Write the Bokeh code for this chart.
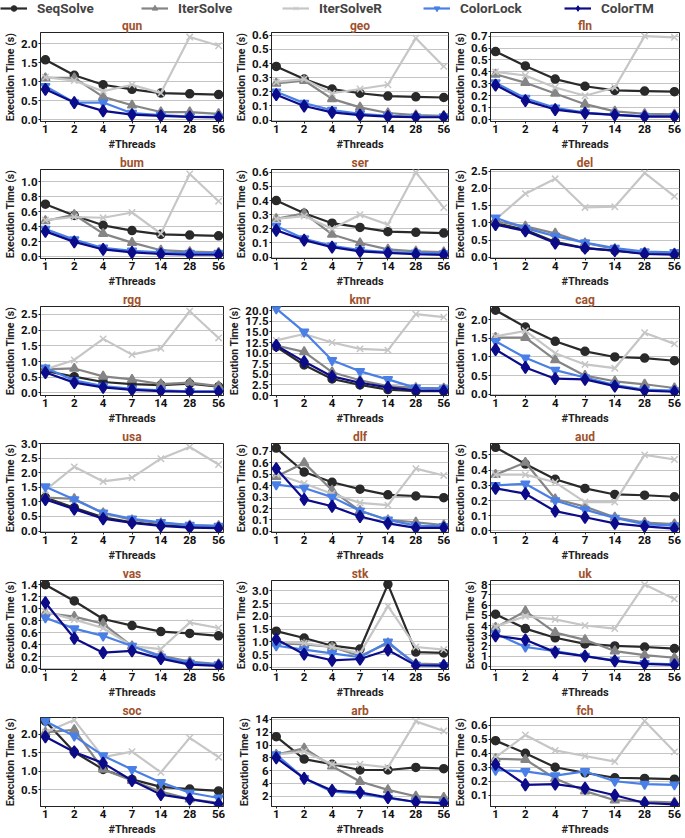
from bokeh.plotting import figure
from bokeh.layouts import gridplot, column
from bokeh.models import Range1d, FixedTicker, Legend, LegendItem, PrintfTickFormatter
from bokeh.embed import file_html
from bokeh.resources import INLINE

threads = ["1", "2", "4", "7", "14", "28", "56"]
series = ["SeqSolve", "IterSolve", "IterSolveR", "ColorLock", "ColorTM"]
graphs = ["qun", "geo", "fln", "bum", "ser", "del", "rgg", "kmr", "cag",
          "usa", "dlf", "aud", "vas", "stk", "uk", "soc", "arb", "fch"]

# execution times (s), per graph, per series, over threads
qun = {"SeqSolve": [1.58, 1.17, 0.92, 0.80, 0.70, 0.68, 0.66],
       "IterSolve": [1.10, 1.10, 0.60, 0.38, 0.20, 0.20, 0.15],
       "IterSolveR": [1.12, 1.03, 0.75, 0.92, 0.70, 2.18, 1.95],
       "ColorLock": [0.88, 0.45, 0.45, 0.17, 0.12, 0.08, 0.07],
       "ColorTM": [0.80, 0.45, 0.23, 0.13, 0.10, 0.07, 0.06]}
geo = {"SeqSolve": [0.38, 0.29, 0.22, 0.19, 0.17, 0.165, 0.16],
       "IterSolve": [0.26, 0.28, 0.15, 0.09, 0.05, 0.035, 0.03],
       "IterSolveR": [0.27, 0.29, 0.19, 0.22, 0.25, 0.58, 0.38],
       "ColorLock": [0.20, 0.12, 0.07, 0.045, 0.03, 0.025, 0.025],
       "ColorTM": [0.18, 0.10, 0.055, 0.035, 0.025, 0.02, 0.02]}
fln = {"SeqSolve": [0.57, 0.45, 0.34, 0.28, 0.245, 0.24, 0.235],
       "IterSolve": [0.38, 0.31, 0.22, 0.13, 0.07, 0.05, 0.045],
       "IterSolveR": [0.40, 0.37, 0.27, 0.20, 0.27, 0.70, 0.69],
       "ColorLock": [0.31, 0.18, 0.10, 0.06, 0.04, 0.03, 0.03],
       "ColorTM": [0.29, 0.16, 0.085, 0.055, 0.04, 0.025, 0.025]}
bum = {"SeqSolve": [0.70, 0.55, 0.42, 0.35, 0.30, 0.29, 0.28],
       "IterSolve": [0.48, 0.56, 0.31, 0.19, 0.09, 0.07, 0.06],
       "IterSolveR": [0.49, 0.53, 0.52, 0.59, 0.31, 1.10, 0.74],
       "ColorLock": [0.37, 0.23, 0.12, 0.08, 0.06, 0.05, 0.05],
       "ColorTM": [0.34, 0.20, 0.10, 0.06, 0.04, 0.03, 0.03]}
ser = {"SeqSolve": [0.40, 0.31, 0.24, 0.21, 0.18, 0.175, 0.17],
       "IterSolve": [0.27, 0.31, 0.16, 0.10, 0.055, 0.04, 0.035],
       "IterSolveR": [0.27, 0.29, 0.20, 0.30, 0.23, 0.60, 0.35],
       "ColorLock": [0.22, 0.13, 0.08, 0.05, 0.035, 0.03, 0.025],
       "ColorTM": [0.19, 0.12, 0.07, 0.04, 0.03, 0.02, 0.015]}
del_ = {"SeqSolve": [1.00, 0.80, 0.45, 0.27, 0.20, 0.12, 0.10],
        "IterSolve": [1.05, 0.90, 0.70, 0.42, 0.25, 0.15, 0.12],
        "IterSolveR": [1.10, 1.85, 2.28, 1.45, 1.47, 2.45, 1.77],
        "ColorLock": [1.15, 0.85, 0.62, 0.43, 0.27, 0.17, 0.15],
        "ColorTM": [0.95, 0.77, 0.42, 0.27, 0.20, 0.10, 0.08]}
rgg = {"SeqSolve": [0.70, 0.52, 0.35, 0.28, 0.25, 0.30, 0.20],
       "IterSolve": [0.75, 0.78, 0.53, 0.43, 0.28, 0.33, 0.22],
       "IterSolveR": [0.75, 1.05, 1.72, 1.22, 1.42, 2.60, 1.75],
       "ColorLock": [0.80, 0.40, 0.22, 0.13, 0.08, 0.05, 0.05],
       "ColorTM": [0.65, 0.33, 0.18, 0.10, 0.06, 0.04, 0.04]}
kmr = {"SeqSolve": [11.5, 7.2, 3.9, 2.5, 1.4, 1.0, 1.0],
       "IterSolve": [11.8, 10.3, 5.5, 3.6, 2.2, 1.8, 1.7],
       "IterSolveR": [13.0, 14.5, 12.5, 11.0, 10.7, 19.2, 18.5],
       "ColorLock": [20.5, 15.0, 8.3, 5.7, 3.8, 1.8, 1.6],
       "ColorTM": [11.8, 8.0, 4.5, 3.0, 1.9, 1.2, 1.1]}
cag = {"SeqSolve": [2.25, 1.80, 1.42, 1.15, 1.00, 0.97, 0.90],
       "IterSolve": [1.52, 1.52, 0.92, 0.50, 0.35, 0.27, 0.17],
       "IterSolveR": [1.55, 1.70, 1.10, 0.80, 0.70, 1.65, 1.35],
       "ColorLock": [1.42, 0.98, 0.65, 0.45, 0.25, 0.13, 0.10],
       "ColorTM": [1.20, 0.72, 0.42, 0.40, 0.22, 0.10, 0.07]}
usa = {"SeqSolve": [1.15, 0.80, 0.47, 0.30, 0.20, 0.15, 0.13],
       "IterSolve": [1.15, 1.10, 0.62, 0.38, 0.27, 0.20, 0.18],
       "IterSolveR": [1.40, 2.20, 1.70, 1.83, 2.48, 2.88, 2.28],
       "ColorLock": [1.52, 1.08, 0.62, 0.42, 0.30, 0.20, 0.17],
       "ColorTM": [1.08, 0.75, 0.42, 0.28, 0.18, 0.12, 0.10]}
dlf = {"SeqSolve": [0.73, 0.52, 0.43, 0.37, 0.32, 0.31, 0.295],
       "IterSolve": [0.48, 0.60, 0.36, 0.18, 0.10, 0.08, 0.055],
       "IterSolveR": [0.50, 0.42, 0.33, 0.25, 0.23, 0.55, 0.49],
       "ColorLock": [0.41, 0.38, 0.30, 0.18, 0.10, 0.05, 0.045],
       "ColorTM": [0.55, 0.28, 0.22, 0.13, 0.07, 0.03, 0.03]}
aud = {"SeqSolve": [0.55, 0.44, 0.34, 0.28, 0.24, 0.235, 0.225],
       "IterSolve": [0.37, 0.45, 0.21, 0.16, 0.09, 0.055, 0.045],
       "IterSolveR": [0.37, 0.37, 0.32, 0.19, 0.19, 0.50, 0.47],
       "ColorLock": [0.30, 0.31, 0.20, 0.14, 0.085, 0.045, 0.035],
       "ColorTM": [0.28, 0.245, 0.13, 0.09, 0.05, 0.03, 0.015]}
vas = {"SeqSolve": [1.40, 1.13, 0.83, 0.72, 0.62, 0.59, 0.55],
       "IterSolve": [0.93, 0.87, 0.75, 0.38, 0.22, 0.12, 0.08],
       "IterSolveR": [0.95, 0.82, 0.68, 0.38, 0.33, 0.77, 0.68],
       "ColorLock": [0.85, 0.67, 0.55, 0.38, 0.20, 0.10, 0.07],
       "ColorTM": [1.10, 0.51, 0.27, 0.30, 0.17, 0.07, 0.05]}
stk = {"SeqSolve": [1.42, 1.15, 0.85, 0.72, 3.25, 0.60, 0.57],
       "IterSolve": [0.95, 0.90, 0.80, 0.45, 0.95, 0.15, 0.12],
       "IterSolveR": [1.00, 0.95, 0.80, 0.55, 2.40, 0.80, 0.70],
       "ColorLock": [0.85, 0.70, 0.55, 0.40, 1.00, 0.10, 0.08],
       "ColorTM": [1.10, 0.52, 0.28, 0.33, 0.68, 0.08, 0.07]}
uk = {"SeqSolve": [5.1, 3.7, 2.8, 2.2, 2.0, 1.9, 1.75],
      "IterSolve": [3.8, 5.4, 3.3, 2.6, 1.5, 1.1, 0.85],
      "IterSolveR": [3.9, 4.9, 4.6, 4.0, 3.7, 8.0, 6.6],
      "ColorLock": [3.2, 1.9, 1.5, 1.0, 0.6, 0.3, 0.2],
      "ColorTM": [3.0, 2.6, 1.4, 1.0, 0.55, 0.25, 0.15]}
soc = {"SeqSolve": [2.35, 1.52, 1.05, 0.78, 0.58, 0.52, 0.47],
       "IterSolve": [2.05, 2.12, 1.05, 0.75, 0.45, 0.25, 0.15],
       "IterSolveR": [2.05, 2.38, 1.38, 1.53, 0.97, 1.90, 1.38],
       "ColorLock": [2.35, 1.95, 1.42, 1.05, 0.70, 0.42, 0.28],
       "ColorTM": [1.93, 1.52, 1.22, 0.75, 0.37, 0.25, 0.12]}
arb = {"SeqSolve": [11.3, 7.8, 7.0, 6.1, 6.1, 6.5, 6.3],
       "IterSolve": [8.5, 9.5, 6.7, 4.3, 3.0, 2.0, 1.8],
       "IterSolveR": [8.5, 9.0, 7.0, 7.0, 6.5, 13.7, 12.2],
       "ColorLock": [8.5, 4.8, 2.7, 2.4, 1.7, 1.1, 1.0],
       "ColorTM": [8.0, 4.8, 2.9, 2.6, 1.8, 1.1, 0.9]}
fch = {"SeqSolve": [0.49, 0.40, 0.30, 0.26, 0.225, 0.22, 0.215],
       "IterSolve": [0.36, 0.355, 0.22, 0.13, 0.065, 0.055, 0.05],
       "IterSolveR": [0.37, 0.53, 0.42, 0.38, 0.34, 0.63, 0.41],
       "ColorLock": [0.28, 0.27, 0.24, 0.27, 0.20, 0.18, 0.175],
       "ColorTM": [0.32, 0.175, 0.18, 0.15, 0.10, 0.045, 0.035]}

data = {"qun": qun, "geo": geo, "fln": fln, "bum": bum, "ser": ser, "del": del_,
        "rgg": rgg, "kmr": kmr, "cag": cag, "usa": usa, "dlf": dlf, "aud": aud,
        "vas": vas, "stk": stk, "uk": uk, "soc": soc, "arb": arb, "fch": fch}

# y axis: (start, end, ticks, tick format)
y_axes = {
    "qun": (-0.05, 2.3, [0.0, 0.5, 1.0, 1.5, 2.0], "%.1f"),
    "geo": (-0.01, 0.62, [0.0, 0.1, 0.2, 0.3, 0.4, 0.5, 0.6], "%.1f"),
    "fln": (-0.015, 0.73, [0.0, 0.1, 0.2, 0.3, 0.4, 0.5, 0.6, 0.7], "%.1f"),
    "bum": (-0.02, 1.16, [0.0, 0.2, 0.4, 0.6, 0.8, 1.0], "%.1f"),
    "ser": (-0.01, 0.62, [0.0, 0.1, 0.2, 0.3, 0.4, 0.5, 0.6], "%.1f"),
    "del": (-0.03, 2.55, [0.0, 0.5, 1.0, 1.5, 2.0, 2.5], "%.1f"),
    "rgg": (-0.08, 2.75, [0.0, 0.5, 1.0, 1.5, 2.0, 2.5], "%.1f"),
    "kmr": (0.0, 21.0, [0.0, 2.5, 5.0, 7.5, 10.0, 12.5, 15.0, 17.5, 20.0], "%.1f"),
    "cag": (-0.03, 2.35, [0.0, 0.5, 1.0, 1.5, 2.0], "%.1f"),
    "usa": (-0.05, 3.0, [0.0, 0.5, 1.0, 1.5, 2.0, 2.5, 3.0], "%.1f"),
    "dlf": (-0.01, 0.77, [0.0, 0.1, 0.2, 0.3, 0.4, 0.5, 0.6, 0.7], "%.1f"),
    "aud": (-0.01, 0.575, [0.0, 0.1, 0.2, 0.3, 0.4, 0.5], "%.1f"),
    "vas": (-0.01, 1.47, [0.0, 0.2, 0.4, 0.6, 0.8, 1.0, 1.2, 1.4], "%.1f"),
    "stk": (-0.08, 3.4, [0.0, 0.5, 1.0, 1.5, 2.0, 2.5, 3.0], "%.1f"),
    "uk": (-0.3, 8.4, [0, 1, 2, 3, 4, 5, 6, 7, 8], "%d"),
    "soc": (0.05, 2.45, [0.5, 1.0, 1.5, 2.0], "%.1f"),
    "arb": (0.4, 14.3, [2, 4, 6, 8, 10, 12, 14], "%d"),
    "fch": (0.02, 0.655, [0.1, 0.2, 0.3, 0.4, 0.5, 0.6], "%.1f"),
}

styles = {
    "SeqSolve": dict(color="#2a2a2a", marker="circle", size=8),
    "IterSolve": dict(color="#858585", marker="triangle", size=9),
    "IterSolveR": dict(color="#c6c6c6", marker="x", size=9),
    "ColorLock": dict(color="#4a80e6", marker="inverted_triangle", size=9),
    "ColorTM": dict(color="#0c0c8a", marker="diamond", size=12),
}

FONT = "Roboto"
x = list(range(len(threads)))

figs = []
for i, g in enumerate(graphs):
    col = i % 3
    w = 232 if col == 2 else 225
    ys, ye, yt, fmt = y_axes[g]
    p = figure(width=w, height=137, output_backend="svg", toolbar_location=None,
               x_range=Range1d(-0.17, len(threads) - 1 + 0.17),
               y_range=Range1d(ys, ye),
               min_border_left=33, min_border_right=w - 33 - (190 if col < 2 else 196),
               min_border_top=14, min_border_bottom=27,
               title=g)
    p.title.text_font = FONT
    p.title.text_font_size = "12px"
    p.title.text_font_style = "bold"
    p.title.text_color = "#a0522d"
    p.title.align = "center"
    p.title.standoff = 0
    p.title.offset = 0
    p.outline_line_color = "#222222"
    p.outline_line_width = 1
    p.xgrid.grid_line_color = None
    p.ygrid.grid_line_color = "#c4c4c4"
    p.ygrid.grid_line_width = 1
    p.xaxis.ticker = FixedTicker(ticks=x)
    p.xaxis.major_label_overrides = {k: t for k, t in zip(x, threads)}
    p.yaxis.ticker = FixedTicker(ticks=yt)
    p.yaxis.formatter = PrintfTickFormatter(format=fmt)
    p.xaxis.axis_label = "#Threads"
    p.yaxis.axis_label = "Execution Time (s)"
    for ax in (p.xaxis[0], p.yaxis[0]):
        ax.axis_label_text_font = FONT
        ax.axis_label_text_font_style = "bold"
        ax.axis_label_text_font_size = "10.5px"
        ax.axis_label_text_color = "#222222"
        ax.major_label_text_font = FONT
        ax.major_label_text_font_style = "bold"
        ax.major_label_text_font_size = "11.5px"
        ax.major_label_text_color = "#111111"
        ax.axis_line_color = "#222222"
        ax.major_tick_line_color = "#222222"
        ax.major_tick_in = 0
        ax.major_tick_out = 2
        ax.minor_tick_line_color = None
        ax.axis_label_standoff = 1
        ax.major_label_standoff = 1
    p.xaxis.axis_label_text_font_size = "11px"
    p.xaxis.axis_label_standoff = 2
    for s in series:
        st = styles[s]
        p.line(x, data[g][s], line_color=st["color"], line_width=2.2)
        p.scatter(x, data[g][s], marker=st["marker"], size=st["size"],
                  fill_color=st["color"], line_color=st["color"], line_width=1.5)
    figs.append(p)

grid = gridplot(figs, ncols=3, toolbar_location=None)

lf = figure(width=685, height=16, output_backend="svg", toolbar_location=None,
            x_axis_type=None, y_axis_type=None, outline_line_color=None,
            min_border=0, x_range=Range1d(0, 1), y_range=Range1d(0, 1))
lf.xgrid.grid_line_color = None
lf.ygrid.grid_line_color = None
items = []
for s in series:
    st = styles[s]
    r1 = lf.line([-10, -9], [-10, -10], line_color=st["color"], line_width=2.2)
    r2 = lf.scatter([-10], [-10], marker=st["marker"], size=st["size"] - 1,
                    fill_color=st["color"], line_color=st["color"])
    items.append(LegendItem(label=s, renderers=[r1, r2]))
leg = Legend(items=items, orientation="horizontal", location="top_left",
             glyph_width=27, glyph_height=14, label_standoff=10, label_width=96,
             spacing=8, padding=0, margin=0, border_line_alpha=0,
             background_fill_alpha=0, label_text_font=FONT,
             label_text_font_style="bold", label_text_font_size="13.5px",
             label_height=14)
lf.add_layout(leg, "center")

layout = column(lf, grid, spacing=0)
open("out.html", "w").write(file_html(layout, INLINE))
